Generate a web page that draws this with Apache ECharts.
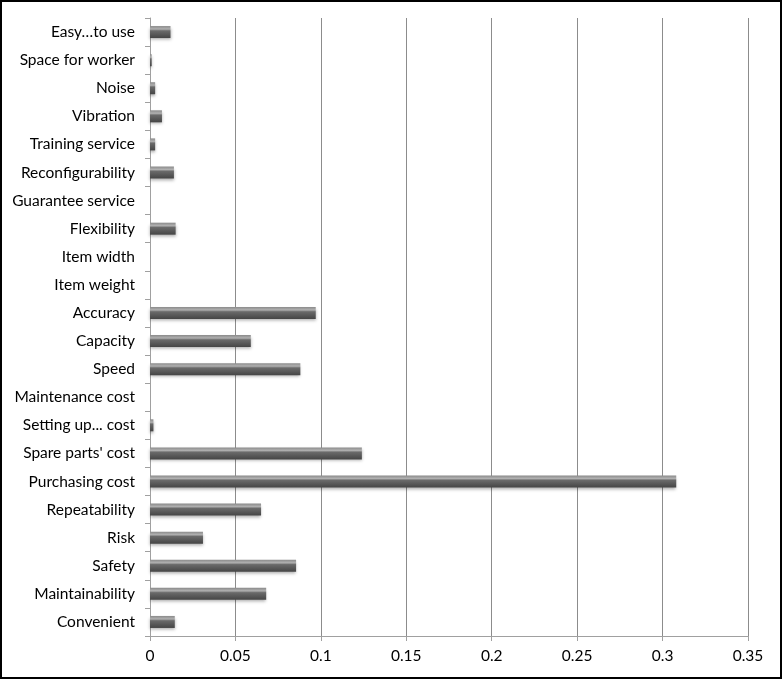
<!DOCTYPE html>
<html>
<head>
<meta charset="utf-8">
<script src="https://cdn.jsdelivr.net/npm/echarts@6/dist/echarts.min.js"></script>
<style>
html,body{margin:0;padding:0;background:#fff;}
#chart{width:782px;height:679px;}
</style>
</head>
<body>
<div id="chart"></div>
<script>
const categories = ["Convenient","Maintainability","Safety","Risk","Repeatability","Purchasing cost","Spare parts' cost","Setting up... cost","Maintenance cost","Speed","Capacity","Accuracy","Item weight","Item width","Flexibility","Guarantee service","Reconfigurability","Training service","Vibration","Noise","Space for worker","Easy…to use"];
const values = [0.0145,0.068,0.0855,0.031,0.065,0.308,0.124,0.002,0,0.088,0.059,0.097,0,0,0.015,0,0.014,0.003,0.007,0.003,0.001,0.012];
const xTicks = {min:0,max:0.35,interval:0.05};

const chart = echarts.init(document.getElementById('chart'));
chart.setOption({
  animation:false,
  textStyle:{fontFamily:'Lato, "Open Sans", sans-serif'},
  grid:{left:150,right:34,top:18,bottom:43,containLabel:false},
  xAxis:{type:'value',min:xTicks.min,max:xTicks.max,interval:xTicks.interval,
    axisLine:{show:true,lineStyle:{color:'#a0a0a0',width:1}},
    axisTick:{show:true,length:5,lineStyle:{color:'#a0a0a0'}},
    axisLabel:{color:'#000',fontSize:15.5,margin:12,formatter:v=>String(+v.toFixed(2))},
    splitLine:{show:true,lineStyle:{color:'#8c8c8c',width:1}}
  },
  yAxis:{type:'category',data:categories,
    axisLine:{show:true,lineStyle:{color:'#a0a0a0',width:1}},
    axisTick:{show:true,length:5,alignWithLabel:false,lineStyle:{color:'#a0a0a0'}},
    axisLabel:{color:'#000',fontSize:15.5,margin:15},
    splitLine:{show:false}
  },
  series:[{type:'bar',data:values,barWidth:12,
    itemStyle:{
      color:new echarts.graphic.LinearGradient(0,0,0,1,[
        {offset:0,color:'#8a8a8a'},{offset:0.25,color:'#b0b0b0'},{offset:0.4,color:'#6a6a6a'},{offset:1,color:'#454545'}]),
      borderWidth:0,
      shadowColor:'rgba(0,0,0,0.3)',shadowBlur:3,shadowOffsetX:0,shadowOffsetY:2
    }
  }],
  graphic:[{type:'rect',shape:{x:1,y:1,width:780,height:677},style:{fill:'none',stroke:'#000',lineWidth:2},silent:true}]
});
</script>
</body>
</html>
